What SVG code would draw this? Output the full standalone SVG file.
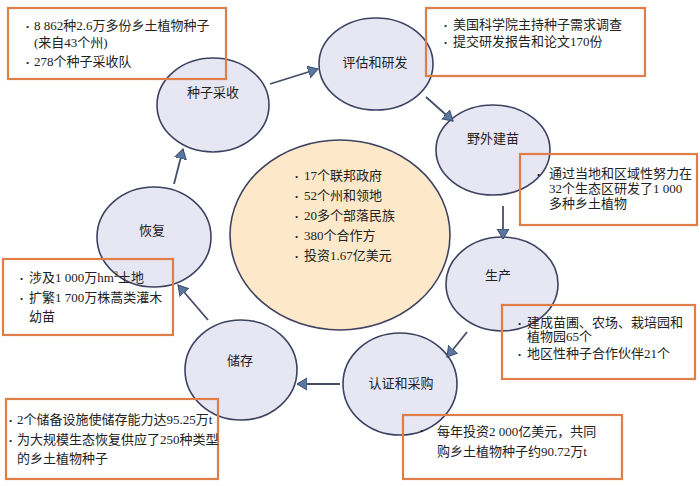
<svg xmlns="http://www.w3.org/2000/svg" width="700" height="486" viewBox="0 0 700 486">
<style>
text{font-family:"Liberation Serif","Noto Sans CJK SC",serif;font-size:13px;fill:#222;}
.n{fill:#e6e7f3;stroke:#3d4260;stroke-width:1.6;}
.c{fill:#fde9c9;stroke:#3d4260;stroke-width:1.6;}
.b{fill:none;stroke:#e07e4a;stroke-width:2.2;}
.l{fill:none;stroke:#454e68;stroke-width:1.8;marker-end:url(#ah);}
.t{text-anchor:middle;}
.d{font-size:9px;}
</style>
<defs>
<marker id="ah" markerUnits="userSpaceOnUse" markerWidth="14" markerHeight="14" refX="10" refY="6.5" orient="auto" viewBox="0 0 14 14">
<path d="M0,0.5 L10,6.5 L0,12.5 z" fill="#5a77a0" stroke="#3d4a6a" stroke-width="1"/>
</marker>
</defs>
<rect width="700" height="486" fill="#fff"/>
<g id="center">
<ellipse class="c" cx="340" cy="235" rx="110" ry="95"/>
<text x="295" y="180"><tspan class="d">•</tspan><tspan x="304">17个联邦政府</tspan></text>
<text x="295" y="200"><tspan class="d">•</tspan><tspan x="304">52个州和领地</tspan></text>
<text x="295" y="220"><tspan class="d">•</tspan><tspan x="304">20多个部落民族</tspan></text>
<text x="295" y="240"><tspan class="d">•</tspan><tspan x="304">380个合作方</tspan></text>
<text x="295" y="260"><tspan class="d">•</tspan><tspan x="304">投资1.67亿美元</tspan></text>
</g>
<g id="n1">
<ellipse class="n" cx="213" cy="105" rx="56" ry="47"/>
<text class="t" x="213" y="97">种子采收</text>
</g>
<g id="n2">
<ellipse class="n" cx="376" cy="64" rx="57" ry="46"/>
<text class="t" x="375" y="67">评估和研发</text>
</g>
<g id="n3">
<ellipse class="n" cx="493" cy="150" rx="57" ry="45"/>
<text class="t" x="493" y="143">野外建苗</text>
</g>
<g id="n4">
<ellipse class="n" cx="502" cy="284" rx="56" ry="47"/>
<text class="t" x="498" y="280">生产</text>
</g>
<g id="n5">
<ellipse class="n" cx="400" cy="384" rx="57" ry="51"/>
<text class="t" x="401" y="388">认证和采购</text>
</g>
<g id="n6">
<ellipse class="n" cx="241" cy="370" rx="56" ry="50"/>
<text class="t" x="240" y="365">储存</text>
</g>
<g id="n7">
<ellipse class="n" cx="154" cy="237" rx="57" ry="50"/>
<text class="t" x="152" y="235">恢复</text>
</g>
<g id="connectors">
<line class="l" x1="270" y1="84" x2="318" y2="69"/>
<line class="l" x1="426" y1="97" x2="453" y2="121"/>
<line class="l" x1="503" y1="206" x2="503" y2="239"/>
<line class="l" x1="467" y1="332" x2="447" y2="357"/>
<line class="l" x1="340" y1="384" x2="297" y2="384"/>
<line class="l" x1="208" y1="320" x2="178" y2="285"/>
<line class="l" x1="174" y1="184" x2="183" y2="149"/>
</g>
<g id="box1">
<rect class="b" x="8" y="8" width="218" height="71"/>
<text x="26" y="30"><tspan class="d">•</tspan><tspan x="34">8 862种2.6万多份乡土植物种子</tspan></text>
<text x="34" y="47">(来自43个州)</text>
<text x="26" y="66"><tspan class="d">•</tspan><tspan x="34">278个种子采收队</tspan></text>
</g>
<g id="box2">
<rect class="b" x="426" y="8" width="219" height="68"/>
<text x="444" y="29"><tspan class="d">•</tspan><tspan x="453">美国科学院主持种子需求调查</tspan></text>
<text x="444" y="46"><tspan class="d">•</tspan><tspan x="453">提交研发报告和论文170份</tspan></text>
</g>
<g id="box3">
<rect class="b" x="520" y="154" width="177" height="71"/>
<text x="537" y="178"><tspan class="d">•</tspan><tspan x="549">通过当地和区域性努力在</tspan></text>
<text x="549" y="193">32个生态区研发了1 000</text>
<text x="549" y="208">多种乡土植物</text>
</g>
<g id="box4">
<rect class="b" x="502" y="305" width="193" height="74"/>
<text x="518" y="327"><tspan class="d">•</tspan><tspan x="527">建成苗圃、农场、栽培园和</tspan></text>
<text x="527" y="341">植物园65个</text>
<text x="518" y="358"><tspan class="d">•</tspan><tspan x="527">地区性种子合作伙伴21个</tspan></text>
</g>
<g id="box5">
<rect class="b" x="403" y="415" width="219" height="64"/>
<text x="420" y="434" class="d">•</text>
<text x="437" y="436">每年投资2 000亿美元，共同</text>
<text x="437" y="456">购乡土植物种子约90.72万t</text>
</g>
<g id="box6">
<rect class="b" x="6" y="399" width="212" height="80"/>
<text x="9" y="424"><tspan class="d">•</tspan><tspan x="17">2个储备设施使储存能力达95.25万t</tspan></text>
<text x="9" y="444"><tspan class="d">•</tspan><tspan x="17">为大规模生态恢复供应了250种类型</tspan></text>
<text x="17" y="463">的乡土植物种子</text>
</g>
<g id="box7">
<rect class="b" x="3" y="259" width="170" height="76"/>
<text x="20" y="282"><tspan class="d">•</tspan><tspan x="29">涉及1 000万hm</tspan><tspan font-size="8" dy="-5">2</tspan><tspan dy="5">土地</tspan></text>
<text x="20" y="302"><tspan class="d">•</tspan><tspan x="29">扩繁1 700万株蒿类灌木</tspan></text>
<text x="29" y="321">幼苗</text>
</g>
</svg>
